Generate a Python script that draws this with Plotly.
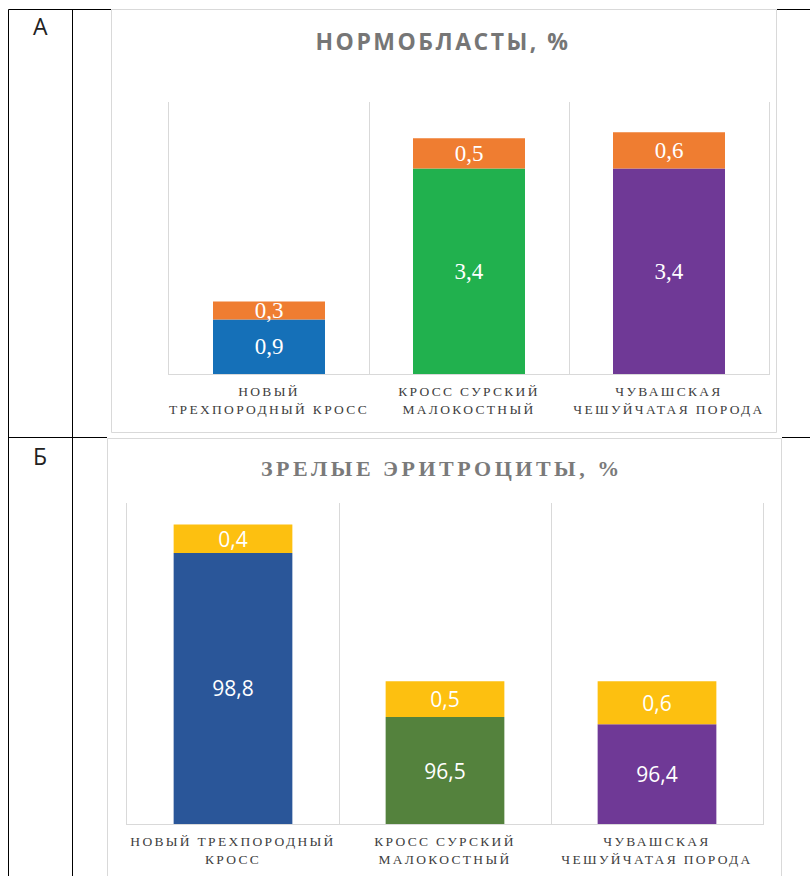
import plotly.graph_objects as go

# ---------------- data ----------------
categories = ["Новый трехпородный кросс", "Кросс Сурский малокостный", "Чувашская чешуйчатая порода"]
ticks_a = ["НОВЫЙ<br>ТРЕХПОРОДНЫЙ КРОСС", "КРОСС СУРСКИЙ<br>МАЛОКОСТНЫЙ", "ЧУВАШСКАЯ<br>ЧЕШУЙЧАТАЯ ПОРОДА"]
ticks_b = ["НОВЫЙ ТРЕХПОРОДНЫЙ<br>КРОСС", "КРОСС СУРСКИЙ<br>МАЛОКОСТНЫЙ", "ЧУВАШСКАЯ<br>ЧЕШУЙЧАТАЯ ПОРОДА"]

normo_main = [0.9, 3.4, 3.4]
normo_extra = [0.3, 0.5, 0.6]
mature_main = [98.8, 96.5, 96.4]
mature_extra = [0.4, 0.5, 0.6]

title_a = "НОРМОБЛАСТЫ, %"
title_b = "ЗРЕЛЫЕ ЭРИТРОЦИТЫ, %"
panel_labels = ["А", "Б"]

range_a = [0, 4.5]
range_b = [95, 99.5]

# ---------------- styles ----------------
colors_a_main = ["#1570B8", "#21B14E", "#6F3996"]
color_a_extra = "#EF7D31"
colors_b_main = ["#2A5699", "#54823D", "#6F3996"]
color_b_extra = "#FDC010"
GRID = "#d9d9d9"
W, H = 810, 876


def fx(x):
    return x / W


def fy(y):
    return 1 - y / H


def fmt(vals):
    return [f"{v:.1f}".replace(".", ",") for v in vals]


fig = go.Figure()

SERIF = "Liberation Serif"
serif_lbl = dict(family=SERIF, size=23, color="white")
sans_lbl = dict(family="Open Sans", size=21, color="white")


def bar(x, y, base, colors, lbl_vals, font, xa, ya):
    return go.Bar(x=x, y=y, base=base, marker=dict(color=colors, line=dict(width=0)),
                  text=fmt(lbl_vals), textposition="inside", insidetextanchor="middle",
                  constraintext="none", textangle=0, textfont=font, insidetextfont=font,
                  outsidetextfont=font, xaxis=xa, yaxis=ya, hoverinfo="skip")


# Panel A
fig.add_trace(bar(categories, normo_main, [0] * 3, colors_a_main, normo_main, serif_lbl, "x", "y"))
fig.add_trace(bar(categories, normo_extra, normo_main, color_a_extra, normo_extra, serif_lbl, "x", "y"))

# Panel Б (value axis starts at range_b[0]; bars drawn from there)
fig.add_trace(bar(categories, [v - range_b[0] for v in mature_main], [range_b[0]] * 3, colors_b_main,
                  mature_main, sans_lbl, "x2", "y2"))
fig.add_trace(bar(categories, mature_extra, mature_main, color_b_extra, mature_extra, sans_lbl, "x2", "y2"))

tickfont = dict(family=SERIF, size=13.5, color="#404040")

xcommon = dict(type="category", tickson="boundaries", showgrid=True, gridcolor=GRID, gridwidth=1,
               showline=True, linecolor=GRID, linewidth=1, ticks="", tickfont=tickfont,
               fixedrange=True, tickvals=categories, ticklabelstandoff=5)
ycommon = dict(showgrid=False, zeroline=False, showticklabels=False, showline=True, mirror=True,
               linecolor=GRID, linewidth=1, fixedrange=True)

fig.update_layout(
    width=W, height=H, margin=dict(l=0, r=0, t=0, b=0),
    paper_bgcolor="white", plot_bgcolor="white",
    barmode="overlay", bargap=0.44, showlegend=False,
    xaxis=dict(domain=[fx(169), fx(769)], anchor="y", ticktext=ticks_a, **xcommon),
    yaxis=dict(domain=[fy(374), fy(102)], anchor="x", range=range_a, **ycommon),
    xaxis2=dict(domain=[fx(127), fx(763)], anchor="y2", ticktext=ticks_b, **xcommon),
    yaxis2=dict(domain=[fy(824), fy(503)], anchor="x2", range=range_b, **ycommon),
)

# table lines
black = dict(color="black", width=1)
lines = [
    (8.5, 9.5, 8.5, 880), (72.5, 9.5, 72.5, 880),
    (8.5, 9.5, 111, 9.5), (777, 9.5, 810, 9.5),
    (8.5, 437.5, 107, 437.5), (782, 437.5, 810, 437.5),
]
for x0, y0, x1, y1 in lines:
    fig.add_shape(type="line", xref="paper", yref="paper", x0=fx(x0), y0=fy(y0), x1=fx(x1), y1=fy(y1), line=black)

# chart boxes
fig.add_shape(type="rect", xref="paper", yref="paper", x0=fx(111.5), x1=fx(776.5), y0=fy(432.5), y1=fy(9.5),
              line=dict(color=GRID, width=1))
fig.add_shape(type="rect", xref="paper", yref="paper", x0=fx(107.5), x1=fx(781.5), y0=fy(890), y1=fy(438.5),
              line=dict(color=GRID, width=1))

# titles and panel letters
fig.add_annotation(text=title_a, xref="paper", yref="paper", x=fx(443), y=fy(41), showarrow=False,
                   xanchor="center", yanchor="middle",
                   font=dict(family="Open Sans", size=23, color="#767676", weight="bold"))
fig.add_annotation(text=title_b, xref="paper", yref="paper", x=fx(442), y=fy(468), showarrow=False,
                   xanchor="center", yanchor="middle",
                   font=dict(family=SERIF, size=22, color="#7a7a7a", weight="bold"))
for lbl, yy in zip(panel_labels, [26, 456]):
    fig.add_annotation(text=lbl, xref="paper", yref="paper", x=fx(40), y=fy(yy), showarrow=False,
                       xanchor="center", yanchor="middle",
                       font=dict(family="Open Sans", size=23, color="#222222"))

post = """
document.body.style.margin='0';
var gd=document.getElementById('{plot_id}');
gd.querySelectorAll('.xtick text, .x2tick text').forEach(function(t){t.style.letterSpacing='2.3px';});
gd.querySelectorAll('text.annotation-text').forEach(function(t){
  var s=t.textContent;
  if(s.indexOf('НОРМОБЛАСТЫ')>=0){t.style.letterSpacing='2.5px';}
  if(s.indexOf('ЭРИТРОЦИТЫ')>=0){t.style.letterSpacing='3.5px';}
});
"""
fig.write_html("out.html", post_script=post, config={"displayModeBar": False})
